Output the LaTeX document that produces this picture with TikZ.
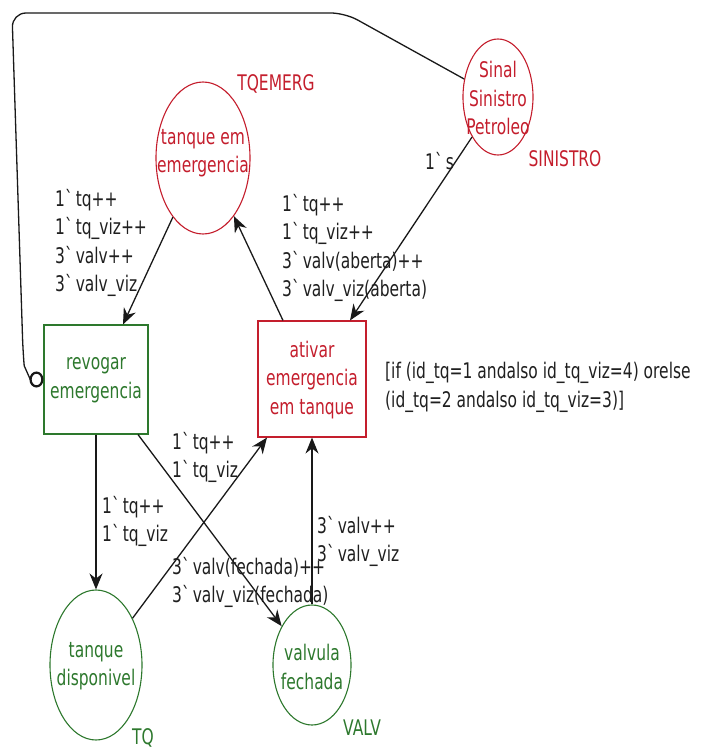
\documentclass[tikz,border=0pt]{standalone}
\usepackage{fontspec}
\newfontfamily\cpnfont[FakeStretch=0.72]{DejaVu Sans}
\usetikzlibrary{arrows.meta,shapes.geometric}
\definecolor{cpnred}{RGB}{196,30,45}
\definecolor{cpngreen}{RGB}{45,120,45}
\begin{document}
\begin{tikzpicture}[x=1pt,y=-1pt,
  txt/.style={font=\cpnfont\fontsize{21.5}{28.5}\selectfont, inner sep=0pt, align=center},
  lbl/.style={txt, align=left, anchor=north west, text=black!88},
  placered/.style={ellipse, draw=cpnred, line width=1.1pt, inner sep=0pt},
  placegreen/.style={ellipse, draw=cpngreen, line width=1.1pt, inner sep=0pt},
  transred/.style={rectangle, draw=cpnred, line width=1.1pt, inner sep=0pt},
  transgreen/.style={rectangle, draw=cpngreen, line width=1.1pt, inner sep=0pt},
  arc/.style={draw=black!90, line width=1.3pt, -{Stealth[length=16pt,width=13pt]}},
  inhib/.style={draw=black!90, line width=1.3pt, rounded corners=14pt, -{Circle[open,length=14pt,width=16pt,line width=2.2pt]}}
]
\useasboundingbox (0,0) rectangle (702,749);

% places
\node[placered, minimum width=94pt, minimum height=152pt] (tqemerg) at (203,158) {};
\node[txt, text=cpnred] (tqemergtxt) at (203,153) {tanque em\\emergencia};
\node[txt, text=cpnred] (tqemerglbl) at (276,84) {TQEMERG};

\node[placered, minimum width=70pt, minimum height=116pt] (sinal) at (498,97) {};
\node[txt, text=cpnred] (sinaltxt) at (498,98) {Sinal\\Sinistro\\Petroleo};
\node[txt, text=cpnred] (sinallbl) at (565,159) {SINISTRO};

\node[placegreen, minimum width=92pt, minimum height=150pt] (tqdisp) at (96,665) {};
\node[txt, text=cpngreen] (tqdisptxt) at (96,666) {tanque\\disponivel};
\node[txt, text=cpngreen] (tqdisplbl) at (143,738) {TQ};

\node[placegreen, minimum width=78pt, minimum height=120pt] (valv) at (312,665) {};
\node[txt, text=cpngreen] (valvtxt) at (312,667) {valvula\\fechada};
\node[txt, text=cpngreen] (valvlbl) at (362,728) {VALV};

% transitions
\node[transgreen, minimum width=104pt, minimum height=109pt] (revogar) at (96,379.5) {};
\node[txt, text=cpngreen] (revogartxt) at (96,380) {revogar\\emergencia};

\node[transred, minimum width=108pt, minimum height=116pt] (ativar) at (312,379) {};
\node[txt, text=cpnred] (ativartxt) at (312,380) {ativar\\emergencia\\em tanque};

% arcs
\draw[arc] (tqemerg.243) -- ([xshift=27pt]revogar.north);
\draw[arc] ([xshift=-29pt]ativar.north) -- (tqemerg.298);
\draw[arc] (sinal.237) -- ([xshift=38pt]ativar.north);
\draw[arc] (revogar.south) -- (tqdisp.north);
\draw[arc] ([xshift=42pt]revogar.south) -- (valv.128);
\draw[arc] (tqdisp.52) -- ([xshift=-45pt]ativar.south);
\draw[arc] (valv.north) -- (ativar.south);
\draw[inhib] (sinal.152) -- (345,13) -- (12,13) -- (23,352) to[out=-85,in=180] (revogar.west);

% inscriptions
\node[lbl] (l1) at (55,189) {1\textasciigrave tq++\\1\textasciigrave tq\_viz++\\3\textasciigrave valv++\\3\textasciigrave valv\_viz};
\node[lbl] (l2) at (282,194) {1\textasciigrave tq++\\1\textasciigrave tq\_viz++\\3\textasciigrave valv(aberta)++\\3\textasciigrave valv\_viz(aberta)};
\node[lbl] (l3) at (425,152) {1\textasciigrave s};
\node[lbl] (guard) at (385,362) {[if (id\_tq=1 andalso id\_tq\_viz=4) orelse\\(id\_tq=2 andalso id\_tq\_viz=3)]};
\node[lbl] (l4) at (172,432) {1\textasciigrave tq++\\1\textasciigrave tq\_viz};
\node[lbl] (l5) at (102,496) {1\textasciigrave tq++\\1\textasciigrave tq\_viz};
\node[lbl] (l6) at (172,557) {3\textasciigrave valv(fechada)++\\3\textasciigrave valv\_viz(fechada)};
\node[lbl] (l7) at (317,516) {3\textasciigrave valv++\\3\textasciigrave valv\_viz};
\end{tikzpicture}
\end{document}
